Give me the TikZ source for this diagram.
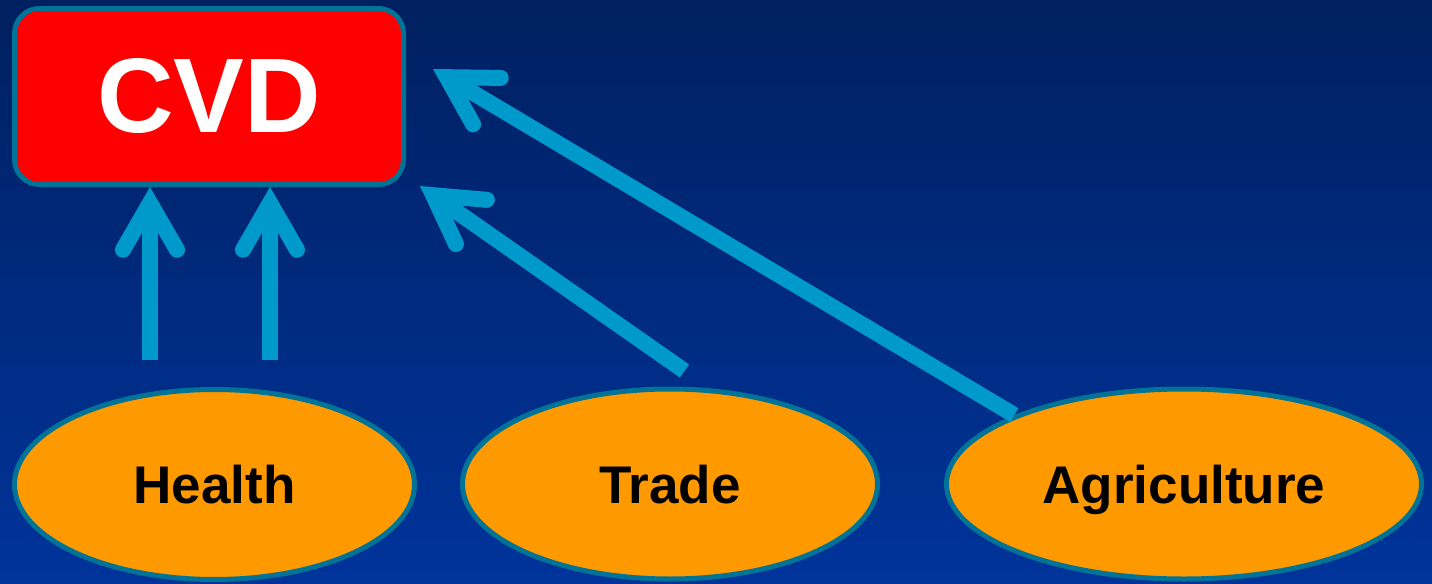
\documentclass[tikz,border=0pt]{standalone}
\usepackage{fontspec}
\setmainfont{Liberation Sans}
\definecolor{bgtop}{RGB}{0,32,96}
\definecolor{bgmid}{RGB}{0,46,138}
\definecolor{bgbottom}{RGB}{0,52,155}
\definecolor{cvdred}{RGB}{255,0,0}
\definecolor{rimteal}{RGB}{0,115,150}
\definecolor{sectororange}{RGB}{255,153,0}
\definecolor{linkblue}{RGB}{0,153,204}
\usetikzlibrary{shapes,positioning,calc}

\begin{document}
\begin{tikzpicture}[x=0.5pt, y=-0.5pt,
    outcome/.style={draw=rimteal, line width=2.5pt, fill=cvdred, rounded corners=12.5pt,
        minimum width=194.5pt, minimum height=88pt, text=white,
        font=\fontsize{53}{60}\selectfont\bfseries},
    sector/.style={ellipse, draw=rimteal, line width=2.5pt, fill=sectororange,
        minimum height=95pt, text height=19pt, text depth=0pt,
        font=\fontsize{26.5}{30}\selectfont\bfseries},
    link/.style={linkblue, line width=8pt},
    barb/.style={linkblue, line width=8pt, line cap=round, line join=miter}]
    % Background
    \shade[top color=bgtop, middle color=bgmid, bottom color=bgbottom] (0,0) rectangle (1432,584);

    % Outcome box
    \node[outcome] (cvd) at (209,96.5) {CVD};

    % Sectors
    \node[sector, minimum width=200pt] (health) at (214.5,484.5) {Health};
    \node[sector, minimum width=207.5pt] (trade) at (670,484) {Trade};
    \node[sector, minimum width=237.5pt] (agri) at (1184,484) {Agriculture};

    % Free ends of the links
    \coordinate (h1) at (150,360);
    \coordinate (h2) at (270,360);
    \coordinate (h1tip) at (h1 |- cvd.south);
    \coordinate (h2tip) at (h2 |- cvd.south);
    \coordinate (tradestart) at (684.5,371);
    \coordinate (tradetip) at (420,186);
    \coordinate (agritip) at (433,69);

    % Links: shaft, then the two barbs meeting at the point
    \foreach \from/\to in {h1/h1tip, h2/h2tip, tradestart/tradetip, agri.north west/agritip} {
        \coordinate (joint) at ($(\to)!8pt!(\from)$);
        \draw[link] (\from) -- (joint);
        \draw[barb] ($(joint)!27pt!30:(\from)$) -- (joint) -- ($(joint)!27pt!-30:(\from)$);
    }
\end{tikzpicture}
\end{document}
